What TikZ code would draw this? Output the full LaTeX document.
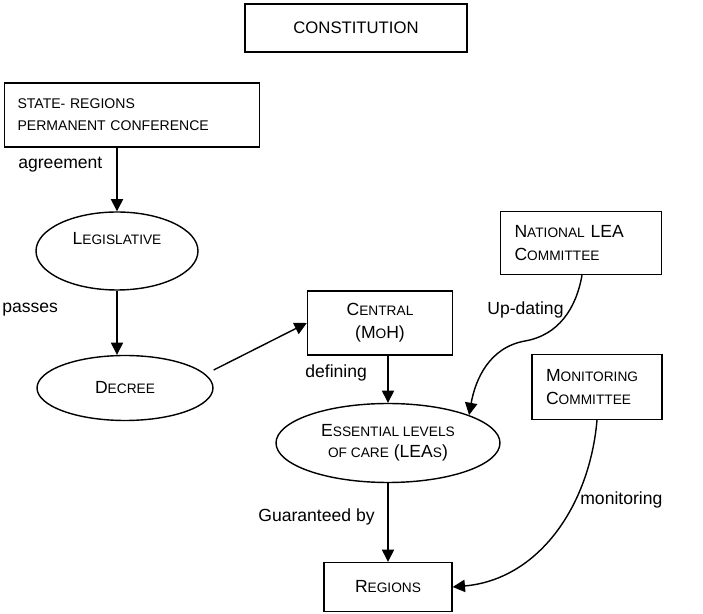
\documentclass[tikz,border=0pt]{standalone}
\usepackage{fontspec}
\setmainfont{Liberation Sans}
\usetikzlibrary{positioning,shapes.geometric,arrows.meta}

% faked small capitals
\newcommand{\smc}[1]{{\fontsize{7.8}{9}\selectfont #1}}

\tikzstyle{box}=[rectangle, draw=black, line width=0.8pt, inner sep=0pt,
        font=\fontsize{10}{13}\selectfont]
\tikzstyle{oval}=[ellipse, draw=black, line width=0.8pt, inner sep=0pt,
        font=\fontsize{10}{12}\selectfont, align=center]
\tikzstyle{link}=[line width=0.8pt, -{Triangle[length=7pt,width=7pt]}]
\tikzstyle{lbl}=[anchor=west, inner sep=0pt, font=\fontsize{10}{12}\selectfont]

\begin{document}
\begin{tikzpicture}[x=0.02cm, y=-0.02cm]
        \useasboundingbox (0,0) rectangle (703,614);

        \node (Constitution) [box, minimum width=4.44cm, minimum height=0.96cm,
          font=\fontsize{9.5}{11}\selectfont] at (356,28) {CONSTITUTION};
        \node (Conference) [box, minimum width=5.1cm, minimum height=1.28cm,
          text width=4.58cm, align=left, font=\fontsize{8}{12.5}\selectfont] at (132,115)
        {
          STATE- REGIONS\\
          PERMANENT CONFERENCE
        };
        \node (Legislative) [oval, minimum width=3.24cm, minimum height=1.56cm] at (117,251)
        {L\smc{EGISLATIVE}\\[2pt]};
        \node (Decree) [oval, minimum width=3.52cm, minimum height=1.3cm] at (125,388)
        {D\smc{ECREE}};
        \node (Central) [box, minimum width=2.9cm, minimum height=1.28cm, align=center] at (380,323)
        {
          C\smc{ENTRAL}\\
          (M\smc{O}H)
        };
        \node (National) [box, minimum width=3.22cm, minimum height=1.26cm,
          text width=2.66cm, align=left] at (581,243)
        {
          N\smc{ATIONAL} LEA\\
          C\smc{OMMITTEE}\\[2pt]
        };
        \node (Monitoring) [box, minimum width=2.6cm, minimum height=1.3cm,
          text width=2.04cm, align=left] at (597,387)
        {
          M\smc{ONITORING}\\
          C\smc{OMMITTEE}\\[2pt]
        };
        \node (Essential) [oval, minimum width=4.48cm, minimum height=1.58cm] at (388,443)
        {
          E\smc{SSENTIAL LEVELS}\\
          \smc{OF CARE} (LEA\smc{S})
        };
        \node (Regions) [box, minimum width=2.56cm, minimum height=0.98cm] at (388,587)
        {R\smc{EGIONS}};

        % edge labels
        \node (agreement) [lbl] at (18,165) {agreement};
        \node (passes) [lbl] at (2,310) {passes};
        \node (defining) [lbl] at (305,373) {defining};
        \node (updating) [lbl] at (487,310) {Up-dating};
        \node (guaranteed) [lbl] at (258,517) {Guaranteed by};
        \node (monitoring) [lbl] at (580,500) {monitoring};

        % connectors
        \coordinate (bend) at (525,341);
        \draw [link] (Legislative |- Conference.south) -- (Legislative.north);
        \draw [link] (Legislative.south) -- (Legislative |- Decree.north);
        \draw [link] ([yshift=0.36cm]Decree.east) -- (Central.west);
        \draw [link] (Essential |- Central.south) -- (Essential.north);
        \draw [link] (Essential.south) -- (Regions.north);
        \draw [link] ([xshift=0.02cm]National.south) to[out=-100, in=10] (bend)
          to[out=190, in=80] (Essential.19);
        \draw [link] (Monitoring.south) to[out=-95, in=5] (Regions.east);
\end{tikzpicture}
\end{document}
